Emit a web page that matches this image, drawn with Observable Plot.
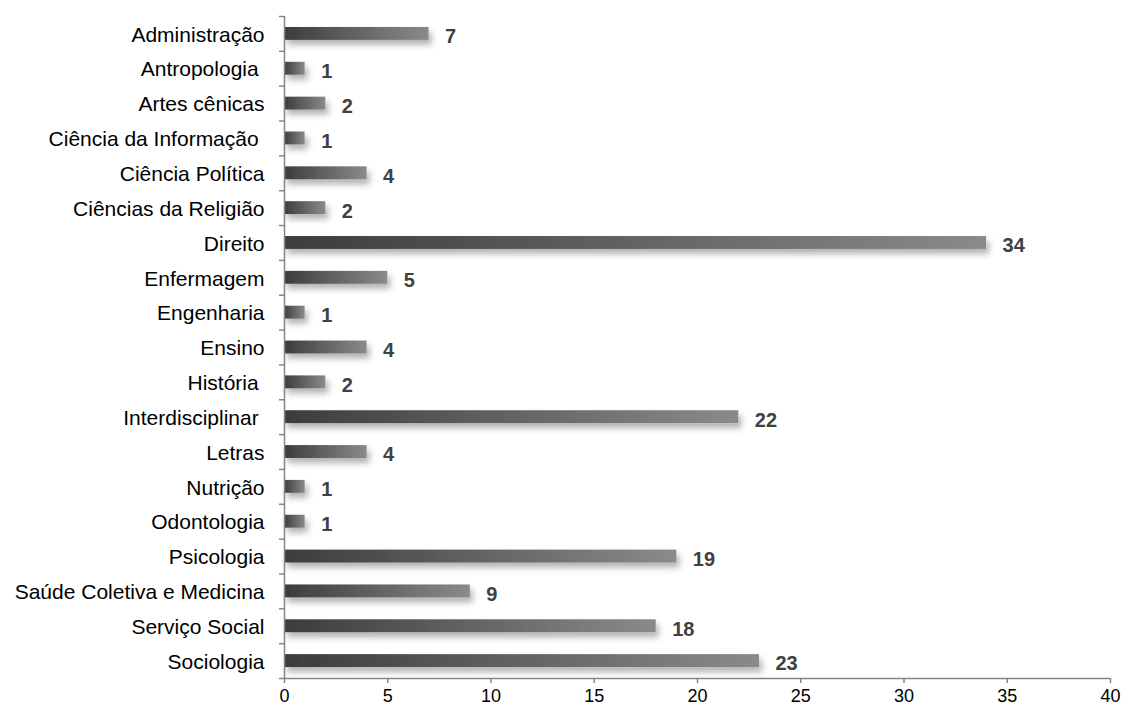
<!DOCTYPE html>
<html>
<head>
<meta charset="utf-8">
<script src="https://cdn.jsdelivr.net/npm/d3@7"></script>
<script src="https://cdn.jsdelivr.net/npm/@observablehq/plot@0.6"></script>
<style>
  html, body { margin: 0; padding: 0; background: #fff; }
  #chart svg { display: block; }
</style>
</head>
<body>
<div id="chart"></div>
<script>
// Number of works by field of knowledge
const areas = [
  "Administração", "Antropologia\u00a0", "Artes cênicas", "Ciência da Informação\u00a0",
  "Ciência Política", "Ciências da Religião", "Direito", "Enfermagem", "Engenharia",
  "Ensino", "História\u00a0", "Interdisciplinar\u00a0", "Letras", "Nutrição", "Odontologia",
  "Psicologia", "Saúde Coletiva e Medicina", "Serviço Social", "Sociologia"
];
const counts = [7, 1, 2, 1, 4, 2, 34, 5, 1, 4, 2, 22, 4, 1, 1, 19, 9, 18, 23];
const xTicks = [0, 5, 10, 15, 20, 25, 30, 35, 40];

const data = areas.map((area, i) => ({area, count: counts[i]}));

const axisColor = "#868686";
const step = (709 - 31 - 16) / areas.length;
const lastArea = areas[areas.length - 1];

// Gradient fill and soft drop shadow for the bars
const defs = () => {
  const d = d3.create("svg:defs");
  const g = d.append("linearGradient").attr("id", "barGrad")
    .attr("x1", "0").attr("y1", "0").attr("x2", "1").attr("y2", "0");
  g.append("stop").attr("offset", "0%").attr("stop-color", "#3c3c3c");
  g.append("stop").attr("offset", "100%").attr("stop-color", "#8a8a8a");
  const f = d.append("filter").attr("id", "barShadow")
    .attr("x", "-10%").attr("y", "-60%").attr("width", "130%").attr("height", "280%");
  f.append("feDropShadow").attr("dx", 3).attr("dy", 5).attr("stdDeviation", 3)
    .attr("flood-color", "#000").attr("flood-opacity", 0.3);
  return d.node();
};

const chart = Plot.plot({
  width: 1122,
  height: 709,
  marginLeft: 284,
  marginRight: 12,
  marginTop: 16,
  marginBottom: 31,
  style: {fontFamily: "Arial, 'Liberation Sans', sans-serif", background: "#fff"},
  x: {domain: [0, 40], ticks: xTicks},
  y: {domain: areas, paddingInner: 0.63, paddingOuter: 0.315, round: false},
  marks: [
    defs,
    Plot.barX(data, {
      y: "area", x: "count",
      fill: "url(#barGrad)",
      render: (index, scales, values, dims, context, next) => {
        const g = next(index, scales, values, dims, context);
        d3.select(g).attr("filter", "url(#barShadow)");
        return g;
      }
    }),
    Plot.text(data, {
      y: "area", x: "count", text: d => String(d.count),
      textAnchor: "start", dx: 16, dy: 3,
      fontSize: 20, fontWeight: "bold", fill: "#404040"
    }),
    // category labels
    Plot.axisY({tickSize: 0, tickPadding: 20, dy: 1, fontSize: 21, fill: "#000", label: null}),
    // tick marks between categories
    Plot.axisY({tickSize: 5, text: null, label: null, dy: -step / 2, stroke: axisColor, strokeWidth: 1.5}),
    Plot.axisY([lastArea], {tickSize: 5, text: null, label: null, dy: step / 2, stroke: axisColor, strokeWidth: 1.5}),
    Plot.ruleX([0], {stroke: axisColor, strokeWidth: 1.5}),
    // value axis along the bottom edge
    Plot.ruleY([lastArea], {x1: 0, x2: 40, dy: step / 2, stroke: axisColor, strokeWidth: 1.5}),
    Plot.axisX({ticks: xTicks, tickSize: 5, tickPadding: 6, fontSize: 18, fill: "#000", stroke: axisColor, strokeWidth: 1.5, label: null})
  ]
});

document.getElementById("chart").appendChild(chart);
</script>
</body>
</html>
